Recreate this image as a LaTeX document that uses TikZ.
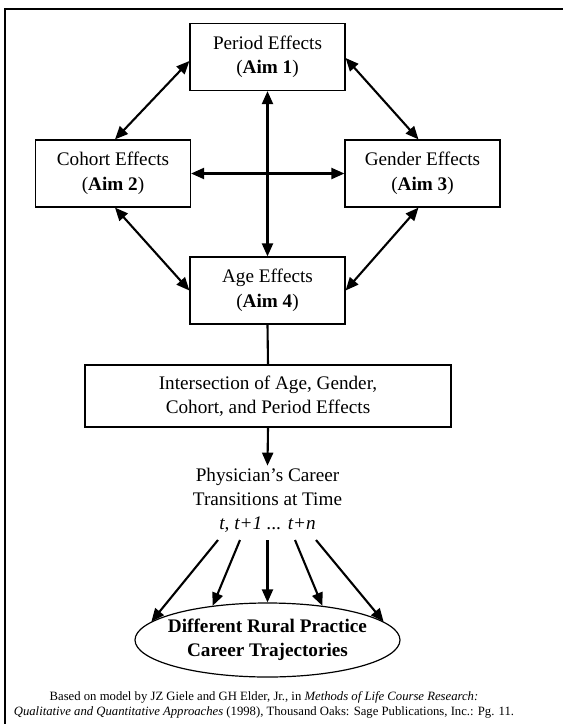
\documentclass[tikz,border=0pt]{standalone}
\usepackage{fontspec}
\setmainfont{Liberation Serif}
\usetikzlibrary{arrows.meta,shapes.geometric,calc}
\begin{document}
\begin{tikzpicture}[x=1pt,y=-1pt,
  every node/.style={font=\fontsize{19.2}{24.5}\selectfont, align=center},
  box/.style={draw, line width=1.2pt, minimum width=155pt, minimum height=67pt, inner sep=0pt},
  arr/.style={line width=2.1pt, -{Triangle[length=13pt,width=11pt]}},
  darr/.style={line width=2.1pt, {Triangle[length=13pt,width=11pt]}-{Triangle[length=13pt,width=11pt]}},
  frame/.style={line width=1.8pt}
]
\useasboundingbox (0,0) rectangle (563,724);
\coordinate (ftr) at (563,9);
\coordinate (ftl) at (5,9);
\coordinate (fbl) at (5,724);
\draw[frame] (ftr) -- (ftl) -- (fbl);

\node[box] (per) at (267.5,57) {Period Effects\\(\textbf{Aim 1})};
\node[box] (coh) at (113,173.5) {Cohort Effects\\(\textbf{Aim 2})};
\node[box] (gen) at (422.5,173.5) {Gender Effects\\(\textbf{Aim 3})};
\node[box] (age) at (267.5,290.5) {Age Effects\\(\textbf{Aim 4})};
\node[box, minimum width=366pt, minimum height=62pt] (int) at (268,396)
  {Intersection of Age, Gender,\\Cohort, and Period Effects};
\node[inner sep=2pt, font=\fontsize{19.2}{24}\selectfont] (phys) at (267.5,500)
  {Physician’s Career\\Transitions at Time\\\textit{t, t+1 ... t+n}};
\node[draw, ellipse, line width=1.2pt, minimum width=265pt, minimum height=74pt, inner sep=0pt,
  label={[align=center, font=\fontsize{19.2}{24.5}\selectfont\bfseries]center:Different Rural Practice\\Career Trajectories}]
  (ell) at (267.5,640) {};
\node[font=\fontsize{12.7}{14.5}\selectfont] (cap) at (264,705)
  {Based on model by JZ Giele and GH Elder, Jr., in \textit{Methods of Life Course Research:}\\
   \textit{Qualitative and Quantitative Approaches} (1998), Thousand Oaks: Sage Publications, Inc.: Pg. 11.};

\draw[darr] (per.south) -- (age.north);
\draw[darr] (coh.east) -- (gen.west);
\draw[darr] ($(per.west)+(0,4)$) -- ($(coh.north)+(2,0)$);
\draw[darr] ($(per.east)+(0,1)$) -- ($(gen.north)+(-4,0)$);
\draw[darr] ($(coh.south)+(2,0)$) -- (age.west);
\draw[darr] ($(gen.south)+(-4,0)$) -- (age.east);
\draw[line width=2.1pt] (age.south) -- (int.north);
\draw[arr] (int.south) -- (phys.north);

\coordinate (s1) at (218,540);
\coordinate (s2) at (240,540);
\coordinate (s3) at (267.5,540);
\coordinate (s4) at (295,540);
\coordinate (s5) at (316,540);
\draw[arr] (s1) -- (ell.171);
\draw[arr] (s2) -- (ell.148);
\draw[arr] (s3) -- (ell.90);
\draw[arr] (s4) -- (ell.32);
\draw[arr] (s5) -- (ell.9);
\end{tikzpicture}
\end{document}
